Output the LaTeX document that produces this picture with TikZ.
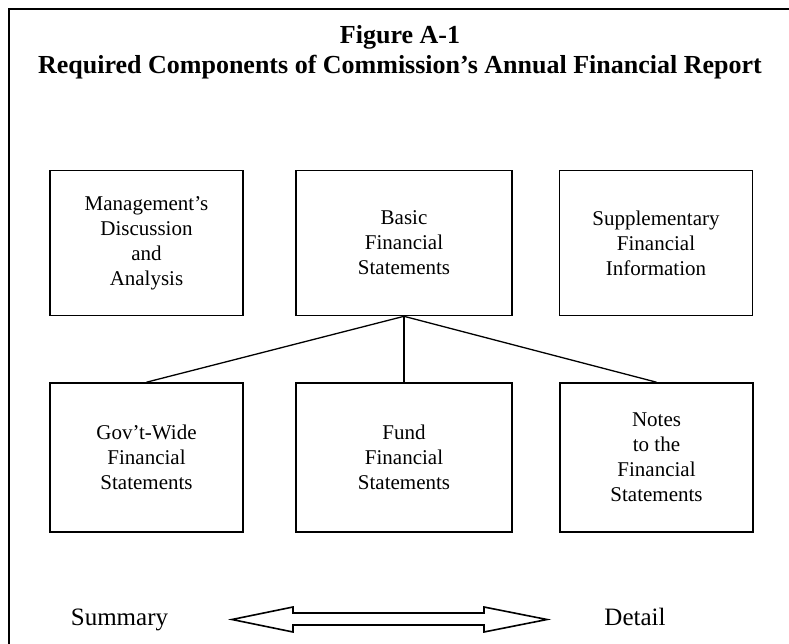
\documentclass[tikz,border=0pt]{standalone}
\usepackage{fontspec}
\setmainfont{Liberation Serif}
\usepackage{tikz}
\usetikzlibrary{positioning, calc}

\begin{document}
\begin{tikzpicture}[
    x=1pt, y=-1pt,
    box/.style={draw, line width=1.6pt, minimum width=193pt, minimum height=145pt, align=center, inner sep=0pt, font=\fontsize{21}{25}\selectfont},
    widebox/.style={box, minimum width=216pt},
    link/.style={line width=1.3pt},
    label/.style={anchor=base, font=\fontsize{25}{30}\selectfont}
]
    \useasboundingbox (0,0) rectangle (789,644);

    % Frame
    \draw[line width=1.6pt] (789,9) -- (9,9) -- (9,644);

    % Title
    \node[align=center, font=\fontsize{26}{30}\bfseries] (title) at (400,52) {Figure A-1\\Required Components of Commission's Annual Financial Report};

    % Top row
    \node[box] (mda) at (146.5,243) {Management's\\Discussion\\and\\Analysis};
    \node[widebox] (basic) at (404,243) {Basic\\Financial\\Statements};
    \node[box] (supp) at (656,243) {Supplementary\\Financial\\Information};

    % Bottom row
    \node[box, minimum height=149pt] (govwide) at (146.5,457.5) {Gov't-Wide\\Financial\\Statements};
    \node[widebox, minimum height=149pt] (fund) at (404,457.5) {Fund\\Financial\\Statements};
    \node[box, minimum height=149pt] (notes) at (656.5,457.5) {Notes\\to the\\Financial\\Statements};

    \draw[link] (basic.south) -- (govwide.north);
    \draw[link] (basic.south) -- (fund.north);
    \draw[link] (basic.south) -- (notes.north);

    % Summary <-> Detail
    \node[label] (summary) at (119.5,625) {Summary};
    \node[label] (detail) at (635,625) {Detail};
    \draw[line width=1.6pt, line join=miter] (232,619.5) -- (293,607) -- (293,613) -- (484,613) -- (484,607) -- (547,619.5)
        -- (484,632) -- (484,625) -- (293,625) -- (293,632) -- cycle;
\end{tikzpicture}
\end{document}
